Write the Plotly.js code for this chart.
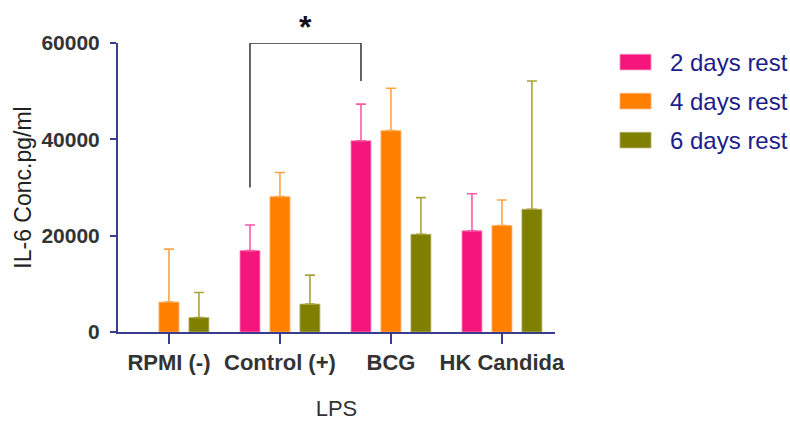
<!DOCTYPE html>
<html>
<head>
<meta charset="utf-8">
<script src="https://cdn.plot.ly/plotly-3.0.1.min.js"></script>
<style>html,body{margin:0;padding:0;background:#fff;}#chart{width:790px;height:421px;}</style>
</head>
<body>
<div id="chart"></div>
<script>
const categories = ["RPMI (-)", "Control (+)", "BCG", "HK Candida"];
const seriesNames = ["2 days rest", "4 days rest", "6 days rest"];
const means2 = [null, 16900, 39700, 21000];
const means4 = [6200, 28100, 41800, 22100];
const means6 = [3000, 5800, 20300, 25500];
const errTop2 = [null, 22200, 47300, 28700];
const errTop4 = [17200, 33100, 50600, 27400];
const errTop6 = [8200, 11800, 27900, 52100];
const yTicks = [0, 20000, 40000, 60000];
const barColors = ["#F5167C", "#FF7F00", "#808000"];
const errColors = ["#FF5AA6", "#FFA445", "#A8A23A"];
const outlineColors = ["#FF8CC0", "#FFB070", "#B8B470"];
const sigPair = [1, 2];
const sigLevels = [30000, 60000, 52100];
const sigLabel = "*";

const means = [means2, means4, means6];
const tops = [errTop2, errTop4, errTop6];
const axisColor = "#3A3D8E";
const FONT = "Liberation Sans, Arial, sans-serif";

const traces = means.map((m, i) => ({
  type: "bar",
  name: seriesNames[i],
  x: categories,
  y: m,
  marker: {color: barColors[i], line: {color: outlineColors[i], width: 0.8}},
  error_y: {
    type: "data", symmetric: false,
    array: m.map((v, j) => v == null ? null : tops[i][j] - v),
    arrayminus: m.map(v => v == null ? null : 0),
    color: errColors[i], thickness: 1.6, width: 5
  },
  showlegend: false,
  hoverinfo: "skip"
}));

const slot = 0.27;
const xL = sigPair[0] - slot, xR = sigPair[1] - slot;
const shapes = [{
  type: "path", xref: "x", yref: "y", layer: "above",
  path: `M ${xL} ${sigLevels[0]} L ${xL} ${sigLevels[1]} L ${xR} ${sigLevels[1]} L ${xR} ${sigLevels[2]}`,
  line: {color: "#333333", width: 1.5}
}];
const annotations = [{
  xref: "x", yref: "paper", x: (xL + xR) / 2, y: 1.056, text: "<b>" + sigLabel + "</b>", showarrow: false,
  font: {family: FONT, size: 32, color: "#111"}, yanchor: "middle"
}];
const legY = [0.934, 0.799, 0.664];
seriesNames.forEach((n, i) => {
  shapes.push({type: "rect", xref: "paper", yref: "paper",
    x0: 1.1487, x1: 1.2197, y0: legY[i] - 0.027, y1: legY[i] + 0.027,
    fillcolor: barColors[i], line: {color: outlineColors[i], width: 0.8}});
  annotations.push({xref: "paper", yref: "paper", x: 1.2586, y: legY[i], xanchor: "left", yanchor: "middle",
    text: n, showarrow: false, font: {family: FONT, size: 24, color: "#1C1C8C"}});
});

const layout = {
  width: 790, height: 421,
  margin: {l: 118, r: 235, t: 43, b: 89},
  paper_bgcolor: "#fff", plot_bgcolor: "#fff",
  barmode: "group", bargap: 0.19, bargroupgap: 0.333,
  xaxis: {
    type: "category", range: [-0.459, 3.478],
    showline: true, linecolor: axisColor, linewidth: 2,
    ticks: "outside", ticklen: 10, tickwidth: 2, tickcolor: axisColor,
    tickfont: {family: FONT, size: 22, color: "#333", weight: "bold"},
    title: {text: "LPS", font: {family: FONT, size: 22, color: "#333"}, standoff: 28},
    showgrid: false, zeroline: false, fixedrange: true
  },
  yaxis: {
    range: [0, 60000], tickvals: yTicks, ticktext: yTicks.map(String),
    showline: true, linecolor: axisColor, linewidth: 2,
    ticks: "outside", ticklen: 6, tickwidth: 2, tickcolor: axisColor,
    ticklabelstandoff: 6,
    tickfont: {family: FONT, size: 21, color: "#333", weight: "bold"},
    title: {text: "IL-6 Conc.pg/ml", font: {family: FONT, size: 23, color: "#222"}, standoff: 3},
    showgrid: false, zeroline: false, fixedrange: true
  },
  shapes: shapes,
  annotations: annotations,
  showlegend: false
};

Plotly.newPlot("chart", traces, layout, {displayModeBar: false, staticPlot: true});
</script>
</body>
</html>
